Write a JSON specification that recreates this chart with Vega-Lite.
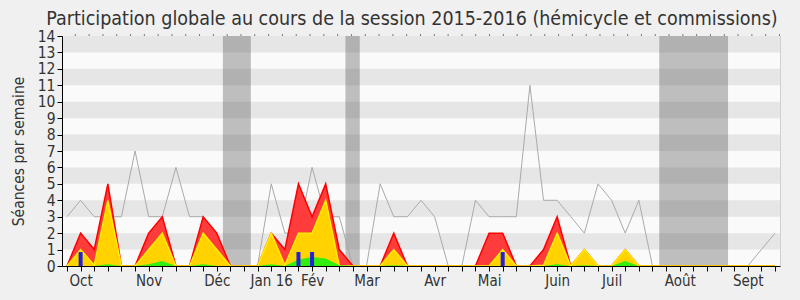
{
  "$schema": "https://vega.github.io/schema/vega-lite/v6.json",
  "width": 718,
  "height": 230,
  "autosize": {"type": "none"},
  "padding": {"left": 62, "top": 36, "right": 20, "bottom": 34},
  "background": "#f0f0f0",
  "view": {"fill": "#fafafa", "stroke": "#d0d0d0"},
  "config": {
    "font": "DejaVu Sans Condensed",
    "view": {"fill": "#fafafa", "stroke": "#d0d0d0"}
  },
  "title": {
    "text": "Participation globale au cours de la session 2015-2016 (hémicycle et commissions)",
    "fontSize": 19.5,
    "fontWeight": "normal",
    "color": "#333333",
    "anchor": "middle",
    "dx": -9,
    "offset": 0
  },
  "datasets": {
    "weeks": [
      {"i": 0, "total": 3, "commission": 0, "hemicycle": 0, "interventions": 0, "questions": 0},
      {"i": 1, "total": 4, "commission": 2, "hemicycle": 1, "interventions": 0, "questions": 0.85},
      {"i": 2, "total": 3, "commission": 1, "hemicycle": 0.05, "interventions": 0, "questions": 0},
      {"i": 3, "total": 3, "commission": 5, "hemicycle": 4, "interventions": 0.1, "questions": 0},
      {"i": 4, "total": 3, "commission": 0, "hemicycle": 0, "interventions": 0, "questions": 0},
      {"i": 5, "total": 7, "commission": 0, "hemicycle": 0, "interventions": 0, "questions": 0},
      {"i": 6, "total": 3, "commission": 2, "hemicycle": 1, "interventions": 0.1, "questions": 0},
      {"i": 7, "total": 3, "commission": 3, "hemicycle": 2, "interventions": 0.3, "questions": 0},
      {"i": 8, "total": 6, "commission": 0, "hemicycle": 0, "interventions": 0, "questions": 0},
      {"i": 9, "total": 3, "commission": 0, "hemicycle": 0, "interventions": 0, "questions": 0},
      {"i": 10, "total": 3, "commission": 3, "hemicycle": 2, "interventions": 0.1, "questions": 0},
      {"i": 11, "total": 0, "commission": 2, "hemicycle": 1, "interventions": 0, "questions": 0},
      {"i": 12, "total": 0, "commission": 0, "hemicycle": 0, "interventions": 0, "questions": 0},
      {"i": 13, "total": 0, "commission": 0, "hemicycle": 0, "interventions": 0, "questions": 0},
      {"i": 14, "total": 0, "commission": 0, "hemicycle": 0, "interventions": 0, "questions": 0},
      {"i": 15, "total": 5, "commission": 2, "hemicycle": 2, "interventions": 0.1, "questions": 0},
      {"i": 16, "total": 2, "commission": 1, "hemicycle": 0.05, "interventions": 0, "questions": 0},
      {"i": 17, "total": 2, "commission": 5, "hemicycle": 2, "interventions": 0.4, "questions": 0.85},
      {"i": 18, "total": 6, "commission": 3, "hemicycle": 2, "interventions": 0.55, "questions": 0.85},
      {"i": 19, "total": 3, "commission": 5, "hemicycle": 4, "interventions": 0.45, "questions": 0},
      {"i": 20, "total": 3, "commission": 1, "hemicycle": 0, "interventions": 0.05, "questions": 0},
      {"i": 21, "total": 0, "commission": 0, "hemicycle": 0, "interventions": 0, "questions": 0},
      {"i": 22, "total": 0, "commission": 0, "hemicycle": 0, "interventions": 0, "questions": 0},
      {"i": 23, "total": 5, "commission": 0, "hemicycle": 0, "interventions": 0, "questions": 0},
      {"i": 24, "total": 3, "commission": 2, "hemicycle": 1, "interventions": 0.05, "questions": 0},
      {"i": 25, "total": 3, "commission": 0, "hemicycle": 0, "interventions": 0, "questions": 0},
      {"i": 26, "total": 4, "commission": 0, "hemicycle": 0, "interventions": 0, "questions": 0},
      {"i": 27, "total": 3, "commission": 0, "hemicycle": 0, "interventions": 0, "questions": 0},
      {"i": 28, "total": 0, "commission": 0, "hemicycle": 0, "interventions": 0, "questions": 0},
      {"i": 29, "total": 0, "commission": 0, "hemicycle": 0, "interventions": 0, "questions": 0},
      {"i": 30, "total": 4, "commission": 0, "hemicycle": 0, "interventions": 0, "questions": 0},
      {"i": 31, "total": 3, "commission": 2, "hemicycle": 0, "interventions": 0, "questions": 0},
      {"i": 32, "total": 3, "commission": 2, "hemicycle": 1, "interventions": 0, "questions": 0.85},
      {"i": 33, "total": 3, "commission": 0, "hemicycle": 0, "interventions": 0, "questions": 0},
      {"i": 34, "total": 11, "commission": 0, "hemicycle": 0, "interventions": 0, "questions": 0},
      {"i": 35, "total": 4, "commission": 1, "hemicycle": 0.05, "interventions": 0, "questions": 0},
      {"i": 36, "total": 4, "commission": 3, "hemicycle": 2, "interventions": 0.1, "questions": 0},
      {"i": 37, "total": 3, "commission": 0, "hemicycle": 0, "interventions": 0, "questions": 0},
      {"i": 38, "total": 2, "commission": 1, "hemicycle": 1, "interventions": 0.05, "questions": 0},
      {"i": 39, "total": 5, "commission": 0, "hemicycle": 0, "interventions": 0, "questions": 0},
      {"i": 40, "total": 4, "commission": 0, "hemicycle": 0, "interventions": 0, "questions": 0},
      {"i": 41, "total": 2, "commission": 1, "hemicycle": 1, "interventions": 0.3, "questions": 0},
      {"i": 42, "total": 4, "commission": 0, "hemicycle": 0, "interventions": 0, "questions": 0},
      {"i": 43, "total": 0, "commission": 0, "hemicycle": 0, "interventions": 0, "questions": 0},
      {"i": 44, "total": 0, "commission": 0, "hemicycle": 0, "interventions": 0, "questions": 0},
      {"i": 45, "total": 0, "commission": 0, "hemicycle": 0, "interventions": 0, "questions": 0},
      {"i": 46, "total": 0, "commission": 0, "hemicycle": 0, "interventions": 0, "questions": 0},
      {"i": 47, "total": 0, "commission": 0, "hemicycle": 0, "interventions": 0, "questions": 0},
      {"i": 48, "total": 0, "commission": 0, "hemicycle": 0, "interventions": 0, "questions": 0},
      {"i": 49, "total": 0, "commission": 0, "hemicycle": 0, "interventions": 0, "questions": 0},
      {"i": 50, "total": 0, "commission": 0, "hemicycle": 0, "interventions": 0, "questions": 0},
      {"i": 51, "total": 1, "commission": 0, "hemicycle": 0, "interventions": 0, "questions": 0},
      {"i": 52, "total": 2, "commission": 0, "hemicycle": 0, "interventions": 0, "questions": 0}
    ],
    "stripes": [
      {"lo": 1, "hi": 2}, {"lo": 3, "hi": 4}, {"lo": 5, "hi": 6}, {"lo": 7, "hi": 8},
      {"lo": 9, "hi": 10}, {"lo": 11, "hi": 12}, {"lo": 13, "hi": 14}
    ],
    "vacances": [
      {"start": 11.45, "end": 13.5},
      {"start": 20.45, "end": 21.5},
      {"start": 43.5, "end": 48.55}
    ],
    "top": [{"lo": 14}]
  },
  "encoding": {
    "x": {"field": "i", "type": "quantitative",
      "scale": {"domain": [0, 52], "nice": false, "zero": false},
      "axis": {"values": [0,1,2,3,4,5,6,7,8,9,10,11,12,13,14,15,16,17,18,19,20,21,22,23,24,25,26,27,28,29,30,31,32,33,34,35,36,37,38,39,40,41,42,43,44,45,46,47,48,49,50,51,52],
        "labelExpr": "datum.value == 1 ? 'Oct' : datum.value == 6 ? 'Nov' : datum.value == 11 ? 'Déc' : datum.value == 15 ? 'Jan 16' : datum.value == 18 ? 'Fév' : datum.value == 22 ? 'Mar' : datum.value == 27 ? 'Avr' : datum.value == 31 ? 'Mai' : datum.value == 36 ? 'Juin' : datum.value == 40 ? 'Juil' : datum.value == 45 ? 'Août' : datum.value == 50 ? 'Sept' : ''",
        "labelOverlap": false, "labelBound": false, "labelFlush": false, "title": null,
        "labelFontSize": 15, "labelColor": "#333333", "labelPadding": 2, "tickSize": 5,
        "tickColor": "#000000", "domainColor": "#000000", "grid": false, "zindex": 1}},
    "y": {"field": "lo", "type": "quantitative", "scale": {"domain": [0, 14], "nice": false},
      "axis": {"values": [0,1,2,3,4,5,6,7,8,9,10,11,12,13,14], "title": "Séances par semaine", "titleFontSize": 15.5, "titleFontWeight": "normal", "titleColor": "#333333", "titlePadding": 11,
        "labelOverlap": false, "labelBound": false, "labelFlush": false,
        "labelFontSize": 15.5, "labelColor": "#333333", "labelPadding": 2, "tickSize": 5,
        "tickColor": "#000000", "domainColor": "#000000", "grid": false, "zindex": 1}}
  },
  "layer": [
    {
      "data": {"name": "stripes"},
      "mark": {"type": "rect", "color": "#e6e6e6"},
      "encoding": {
        "x": null,
        "y2": {"field": "hi"}
      }
    },
    {
      "data": {"name": "vacances"},
      "mark": {"type": "rect", "color": "#4c4c4c", "opacity": 0.35},
      "encoding": {
        "x": {"field": "start", "type": "quantitative"},
        "x2": {"field": "end"},
        "y": {"value": 0},
        "y2": {"value": 230}
      }
    },
    {
      "data": {"name": "weeks"},
      "transform": [{"fold": ["total"], "as": ["serie", "lo"]}],
      "mark": {"type": "line", "color": "#aaaaaa", "strokeWidth": 1}
    },
    {
      "data": {"name": "weeks"},
      "transform": [{"fold": ["commission"], "as": ["serie", "lo"]}],
      "mark": {"type": "area", "color": "#ff3c3c", "opacity": 1, "line": {"color": "#ff0000", "strokeWidth": 1.5}}
    },
    {
      "data": {"name": "weeks"},
      "transform": [{"fold": ["hemicycle"], "as": ["serie", "lo"]}],
      "mark": {"type": "area", "color": "#ffd200", "opacity": 1, "line": {"color": "#ffee00", "strokeWidth": 1.5}}
    },
    {
      "data": {"name": "weeks"},
      "transform": [{"fold": ["interventions"], "as": ["serie", "lo"]}],
      "mark": {"type": "area", "color": "#33ee11", "opacity": 1}
    },
    {
      "data": {"name": "weeks"},
      "transform": [{"filter": "datum.questions > 0"}, {"fold": ["questions"], "as": ["serie", "lo"]}],
      "mark": {"type": "bar", "color": "#2222dd", "width": 4}
    },
    {
      "data": {"name": "top"},
      "mark": {"type": "rule", "color": "#000000", "strokeWidth": 1, "strokeDash": [1, 12.8077], "yOffset": -1},
      "encoding": {
        "x": null
      }
    }
  ]
}
